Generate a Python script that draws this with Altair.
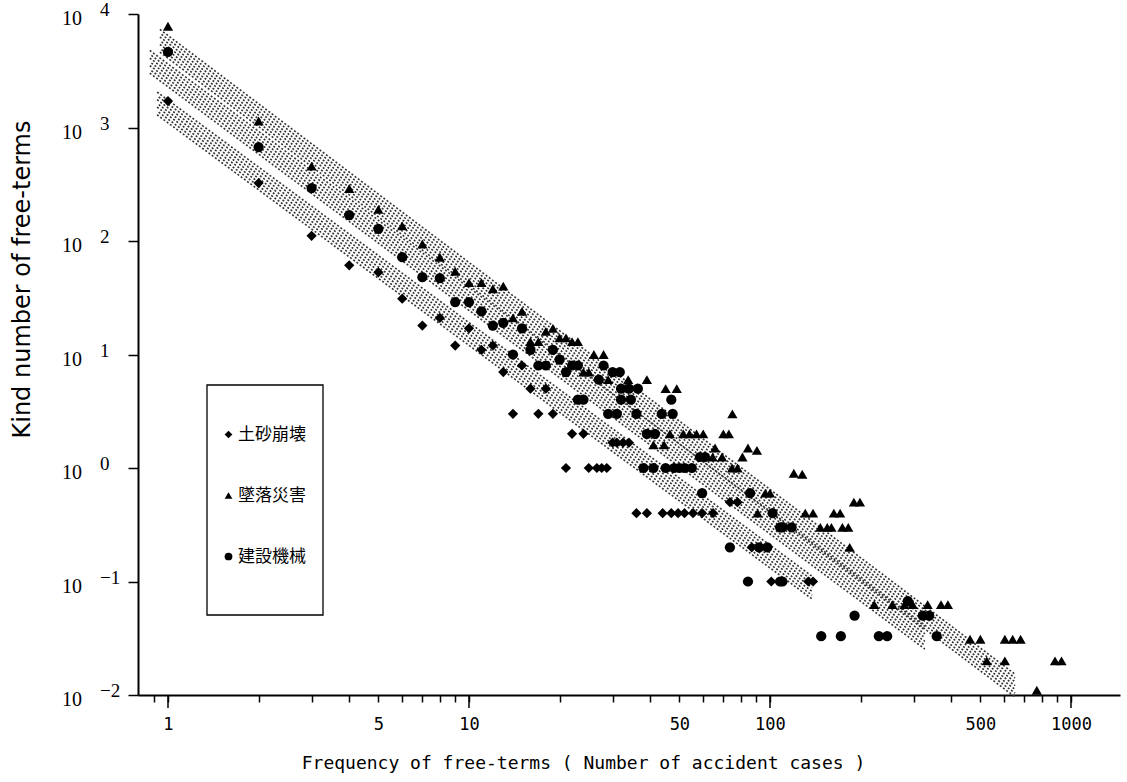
import altair as alt
import pandas as pd

SERIES = ["土砂崩壊", "墜落災害", "建設機械"]
SHAPES = ["diamond", "triangle-up", "circle"]

# 土砂崩壊 : frequency of a term vs. number of distinct terms
landslide_freq = [1, 2, 3, 4, 5, 6, 7, 8, 9, 10, 11, 12, 13, 14, 15, 16, 17, 18, 19,
                  21, 22, 24, 25, 26.6, 27.6, 28.7, 30, 31, 32.5, 34,
                  36, 39, 44, 47, 49.5, 52, 55.5, 59.5, 64.7, 73.6, 78, 87, 101, 134, 139]
landslide_kinds = [1710, 324, 111, 61, 53, 31, 18, 21, 12, 17, 11, 12, 7, 3, 8, 5, 3, 5, 3,
                   1, 2, 2, 1, 1, 1, 1, 1.67, 1.67, 1.67, 1.67,
                   0.4, 0.4, 0.4, 0.4, 0.4, 0.4, 0.4, 0.4, 0.4, 0.5, 0.5, 0.2, 0.1, 0.1, 0.1]

# 墜落災害
fall_freq = [1, 2, 3, 4, 5, 6, 7, 8, 9, 10, 11, 12, 13, 14, 15, 16, 17, 18, 19, 20,
             21, 22, 23, 24, 25, 26, 28, 29, 33.8, 39, 45, 49, 41, 44.5,
             46.5, 51.5, 54, 57, 60, 70, 73, 75, 65.7, 84.5, 90.5, 64.5, 69.3, 81,
             74.8, 78, 120, 128, 96.5, 100, 190, 199, 91, 131, 139, 163, 171,
             147, 155, 160, 174, 182, 184, 222, 255, 280, 298, 334, 370, 390,
             462, 500, 603, 640, 680, 525, 603, 885, 930, 770]
fall_kinds = [7800, 1140, 457, 290, 190, 136, 94, 72, 54, 43, 43, 38, 40, 21, 24, 13, 13, 16, 17, 14,
              14, 13, 13, 7, 7, 10, 10, 6, 6, 6, 5, 5, 1.6, 1.6,
              2, 2, 2, 2, 2, 2, 2, 3, 1.5, 1.5, 1.43, 1.25, 1.25, 1.25,
              1, 1, 0.9, 0.88, 0.6, 0.6, 0.5, 0.5, 0.4, 0.4, 0.4, 0.4, 0.4,
              0.3, 0.3, 0.3, 0.3, 0.3, 0.2, 0.0625, 0.0625, 0.0625, 0.0625, 0.0625, 0.0625, 0.0625,
              0.031, 0.031, 0.031, 0.031, 0.031, 0.02, 0.02, 0.02, 0.02, 0.011]

# 建設機械
machine_freq = [1, 2, 3, 4, 5, 6, 7, 8, 9, 10, 11, 12, 13, 14, 15, 16, 17, 18, 19, 20,
                21, 22, 23, 27, 28, 30, 31.7, 32, 34, 36.4, 23, 24, 32, 34.5, 47,
                29, 31, 36, 43.7, 47.5, 39, 41.5, 38, 41, 45, 48, 50, 52, 55,
                58.5, 60.8, 59.5, 85.9, 102, 108, 110, 118, 73.6, 92, 98, 84.5, 108, 110,
                191, 287, 322, 338, 148, 172, 230, 245, 358]
machine_kinds = [4630, 673, 293, 169, 128, 72, 48, 47, 29, 29, 24, 18, 19, 10, 17, 11, 8, 8, 11, 9,
                 7, 8, 8, 6, 8, 7, 7, 5, 5, 5, 4, 4, 4, 4, 4,
                 3, 3, 3, 3, 3, 2, 2, 1, 1, 1, 1, 1, 1, 1,
                 1.25, 1.25, 0.6, 0.6, 0.4, 0.3, 0.3, 0.3, 0.2, 0.2, 0.2, 0.1, 0.1, 0.1,
                 0.05, 0.067, 0.05, 0.05, 0.033, 0.033, 0.033, 0.033, 0.033]

# fitted bands (start/end of each band's centre line), same order as SERIES
band_x0 = [0.92, 0.94, 0.87]
band_x1 = [138, 652, 327]
band_y0 = [1630, 5810, 3790]
band_y1 = [0.0883, 0.0121, 0.032]
# the bands are printed as a dot screen: rows of dots offset across the band (in decades)
screen_rows = [-0.1, -0.067, -0.033, 0.0, 0.033, 0.067, 0.1]

# axis ticks and labels
x_ticks = [0.9, 1, 2, 3, 4, 5, 6, 7, 8, 9, 10, 20, 30, 40, 50, 60, 70, 80, 90,
           100, 200, 300, 400, 500, 600, 700, 800, 900, 1000]
x_major = [1, 10, 100, 1000]
y_ticks = [0.01, 0.1, 1, 10, 100, 1000, 10000]
y_exponents = ["−2", "−1", "0", "1", "2", "3", "4"]

W, H = 982, 681

rows = []
for name, xs, ys in zip(SERIES, [landslide_freq, fall_freq, machine_freq],
                        [landslide_kinds, fall_kinds, machine_kinds]):
    rows += [{"series": name, "freq": a, "kinds": b} for a, b in zip(xs, ys)]
points = pd.DataFrame(rows)

screen = []
for i, name in enumerate(SERIES):
    for j, off in enumerate(screen_rows):
        f = 10 ** off
        screen.append({"series": name, "row": j % 2,
                       "x0": band_x0[i], "x1": band_x1[i],
                       "y0": band_y0[i] * f, "y1": band_y1[i] * f})
screen_df = pd.DataFrame(screen)

ylab_df = pd.DataFrame({"v": y_ticks, "base": ["10"] * len(y_ticks), "exp": y_exponents})
major_df = pd.DataFrame({"t": x_major})

x_scale = alt.Scale(type="log", domain=[0.795, 1455], nice=False)
y_scale = alt.Scale(type="log", domain=[0.01, 10000], nice=False)

x_axis = alt.Axis(
    values=x_ticks, tickSize=7, tickWidth=1.5, tickColor="black",
    domainColor="black", domainWidth=2, grid=False,
    labelExpr="indexof([1, 5, 10, 50, 100, 500, 1000], datum.value) >= 0 ? '' + datum.value : ''",
    labelFont="DejaVu Sans Mono", labelFontSize=17, labelColor="black",
    labelPadding=14, labelOverlap=False, labelFlush=False,
    title="Frequency of free-terms ( Number of accident cases )",
    titleFont="DejaVu Sans Mono", titleFontSize=18, titleFontWeight="normal",
    titleColor="black", titleX=445, titleY=68, titleAlign="center", titleBaseline="middle",
)
y_axis = alt.Axis(
    values=y_ticks, tickSize=10, tickWidth=1.5, tickColor="black",
    domainColor="black", domainWidth=2, grid=False, labels=False,
    title="Kind number of free-terms",
    titleFont="DejaVu Sans", titleFontSize=24, titleFontWeight="normal",
    titleColor="black", titleX=-116, titleY=265, titleAngle=270,
    titleAlign="center", titleBaseline="middle",
)

screen_base = alt.Chart(screen_df).encode(
    x=alt.X("x0:Q", scale=x_scale, axis=x_axis),
    x2="x1:Q",
    y=alt.Y("y0:Q", scale=y_scale, axis=y_axis),
    y2="y1:Q",
)
screen_a = screen_base.transform_filter("datum.row == 0").mark_rule(
    color="#333333", strokeWidth=1.6, strokeDash=[2, 2], strokeDashOffset=0, strokeCap="butt")
screen_b = screen_base.transform_filter("datum.row == 1").mark_rule(
    color="#333333", strokeWidth=1.6, strokeDash=[2, 2], strokeDashOffset=2, strokeCap="butt")

pts = alt.Chart(points).mark_point(filled=True, color="black", opacity=1, size=105, strokeWidth=0).encode(
    x=alt.X("freq:Q", scale=x_scale, axis=x_axis),
    y=alt.Y("kinds:Q", scale=y_scale, axis=y_axis),
    shape=alt.Shape(
        "series:N",
        scale=alt.Scale(domain=SERIES, range=SHAPES),
        legend=alt.Legend(
            title=None, orient="none", legendX=82, legendY=412, direction="vertical",
            symbolSize=60, symbolFillColor="black", symbolStrokeColor="black", symbolStrokeWidth=0,
            labelFont="Noto Sans CJK JP", labelFontSize=17, labelColor="black",
            labelOffset=1, rowPadding=43, padding=0,
        ),
    ),
)

major_ticks = alt.Chart(major_df).mark_rule(color="black", strokeWidth=1.5).encode(
    x=alt.X("t:Q", scale=x_scale, axis=x_axis),
    y=alt.value(H),
    y2=alt.value(H + 13),
)

base_txt = alt.Chart(ylab_df).mark_text(
    align="right", baseline="middle", dy=5, font="Liberation Serif", fontSize=20, color="black"
).encode(x=alt.value(-56), y=alt.Y("v:Q", scale=y_scale, axis=y_axis), text="base:N")

exp_txt = alt.Chart(ylab_df).mark_text(
    align="left", baseline="middle", dy=-4, font="Liberation Serif", fontSize=19, color="black"
).encode(x=alt.value(-38), y=alt.Y("v:Q", scale=y_scale, axis=y_axis), text="exp:N")

legend_box = alt.Chart(pd.DataFrame({"k": [0]})).mark_rect(
    filled=False, stroke="black", strokeWidth=1.3
).encode(x=alt.value(69), x2=alt.value(185), y=alt.value(371), y2=alt.value(601))

chart = alt.layer(screen_a, screen_b, pts, major_ticks, base_txt, exp_txt, legend_box).properties(
    width=W, height=H,
    padding={"left": 138, "top": 14, "right": 7, "bottom": 87},
    autosize=alt.AutoSizeParams(type="none"),
    background="white",
).configure_view(stroke=None)

chart.save("out.html", embed_options={"renderer": "svg", "actions": False})
